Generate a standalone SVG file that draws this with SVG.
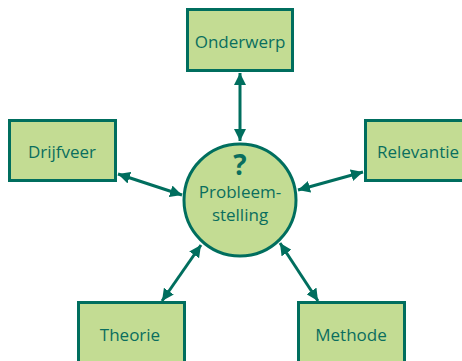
<svg xmlns="http://www.w3.org/2000/svg" width="462" height="361" viewBox="0 0 462 361">
<style>
.box{fill:#c3dc93;stroke:#006e5e;stroke-width:3}
.lbl{font-family:"Open Sans","Noto Sans",sans-serif;font-size:17px;fill:#0a6e5e;text-anchor:middle}
.con{stroke:#006e5e;stroke-width:3;fill:none;marker-start:url(#ah);marker-end:url(#ah)}
</style>
<defs>
<marker id="ah" viewBox="0 0 12 12" refX="12" refY="6" markerWidth="12" markerHeight="12" markerUnits="userSpaceOnUse" orient="auto-start-reverse">
<path d="M0,0 L12,6 L0,12 z" fill="#006e5e"/>
</marker>
</defs>
<g id="connectors">
<line class="con" x1="240" y1="73" x2="240" y2="141"/>
<line class="con" x1="118" y1="174" x2="182" y2="195"/>
<line class="con" x1="363" y1="172" x2="298" y2="190"/>
<line class="con" x1="162" y1="301" x2="201" y2="245"/>
<line class="con" x1="318" y1="301" x2="280" y2="243"/>
</g>
<g id="onderwerp"><rect class="box" x="187.5" y="9.5" width="105" height="61"/><text class="lbl" x="240" y="48">Onderwerp</text></g>
<g id="drijfveer"><rect class="box" x="9.5" y="120.5" width="106" height="60"/><text class="lbl" x="62" y="158">Drijfveer</text></g>
<g id="relevantie"><rect class="box" x="365.5" y="120.5" width="110" height="60"/><text class="lbl" x="418" y="158">Relevantie</text></g>
<g id="theorie"><rect class="box" x="78.5" y="302.5" width="106" height="70"/><text class="lbl" x="130" y="341">Theorie</text></g>
<g id="methode"><rect class="box" x="298.5" y="302.5" width="106" height="70"/><text class="lbl" x="351" y="341">Methode</text></g>
<g id="probleemstelling">
<circle class="box" cx="240" cy="200" r="56"/>
<text class="lbl" x="240" y="175" style="font-size:28px;font-weight:bold">?</text>
<text class="lbl" x="240" y="198">Probleem-</text>
<text class="lbl" x="240" y="221">stelling</text>
</g>
</svg>
